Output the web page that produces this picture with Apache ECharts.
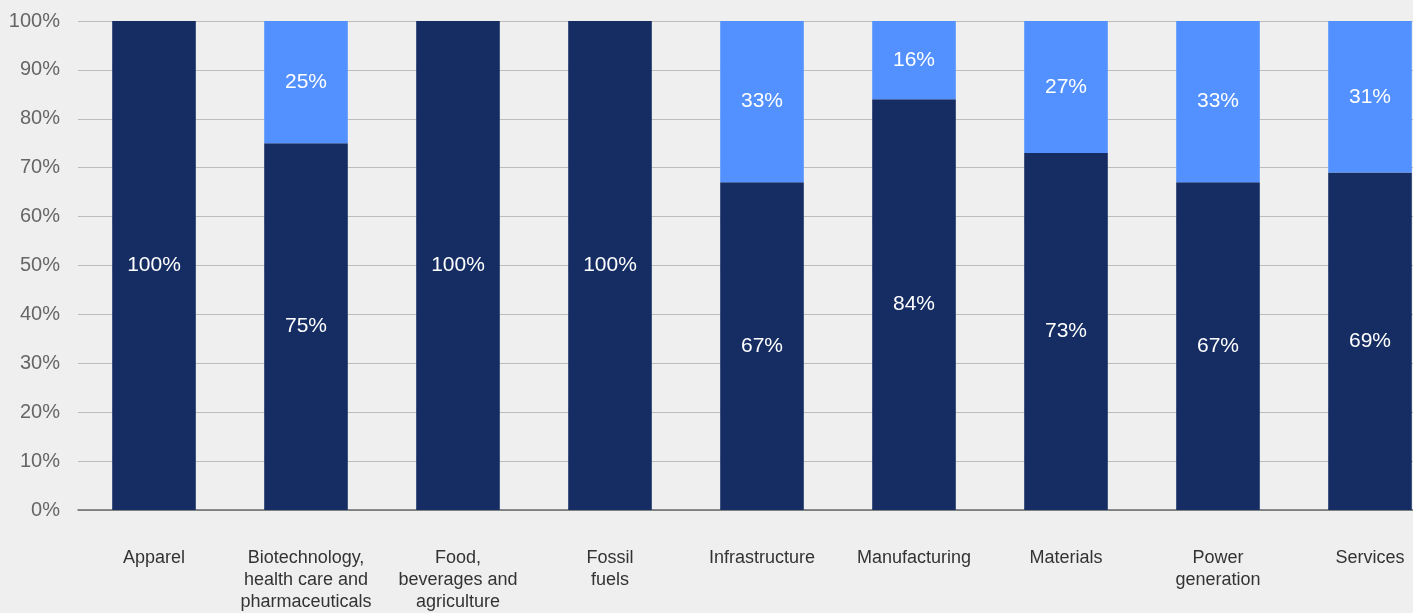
<!DOCTYPE html>
<html>
<head>
<meta charset="utf-8">
<script src="https://cdn.jsdelivr.net/npm/echarts@6/dist/echarts.min.js"></script>
<style>
  html, body { margin: 0; padding: 0; background: #efefef; overflow: hidden; }
  /* the plot runs slightly past the right edge of the page */
  #chart { width: 1446px; height: 613px; }
</style>
</head>
<body>
<div id="chart"></div>
<script>
// Sectors and their share split (percent)
const categories = [
  'Apparel',
  'Biotechnology,\nhealth care and\npharmaceuticals',
  'Food,\nbeverages and\nagriculture',
  'Fossil\nfuels',
  'Infrastructure',
  'Manufacturing',
  'Materials',
  'Power\ngeneration',
  'Services'
];
const darkShare  = [100, 75, 100, 100, 67, 84, 73, 67, 69];
const lightShare = [0, 25, 0, 0, 33, 16, 27, 33, 31];
const yTicks = { min: 0, max: 100, interval: 10 };

const FONT = '"Liberation Sans", Arial, Helvetica, sans-serif';

const chart = echarts.init(document.getElementById('chart'), null, { renderer: 'canvas' });

const segLabel = {
  show: true,
  position: 'inside',
  color: '#ffffff',
  fontFamily: FONT,
  fontSize: 21,
  formatter: p => (p.value > 0 ? p.value + '%' : '')
};

chart.setOption({
  backgroundColor: '#efefef',
  animation: false,
  grid: { left: 78, right: 0, top: 21, bottom: 102, containLabel: false },
  xAxis: {
    type: 'category',
    data: categories,
    axisLine: { show: true, lineStyle: { color: '#6b6b6b', width: 1.5 } },
    axisTick: { show: false },
    axisLabel: {
      color: '#333333',
      fontFamily: FONT,
      fontSize: 18,
      lineHeight: 22,
      margin: 37,
      interval: 0,
      align: 'center'
    }
  },
  yAxis: {
    type: 'value',
    min: yTicks.min,
    max: yTicks.max,
    interval: yTicks.interval,
    axisLine: { show: false },
    axisTick: { show: false },
    splitLine: { lineStyle: { color: '#bcbcbc', width: 1 } },
    axisLabel: {
      color: '#666666',
      fontFamily: FONT,
      fontSize: 20,
      margin: 18,
      formatter: '{value}%'
    }
  },
  series: [
    {
      name: 'Dark',
      type: 'bar',
      stack: 'share',
      barWidth: '55%',
      data: darkShare,
      itemStyle: { color: '#152d63' },
      label: segLabel
    },
    {
      name: 'Light',
      type: 'bar',
      stack: 'share',
      barWidth: '55%',
      data: lightShare,
      itemStyle: { color: '#5291ff' },
      label: segLabel
    }
  ]
});
</script>
</body>
</html>
